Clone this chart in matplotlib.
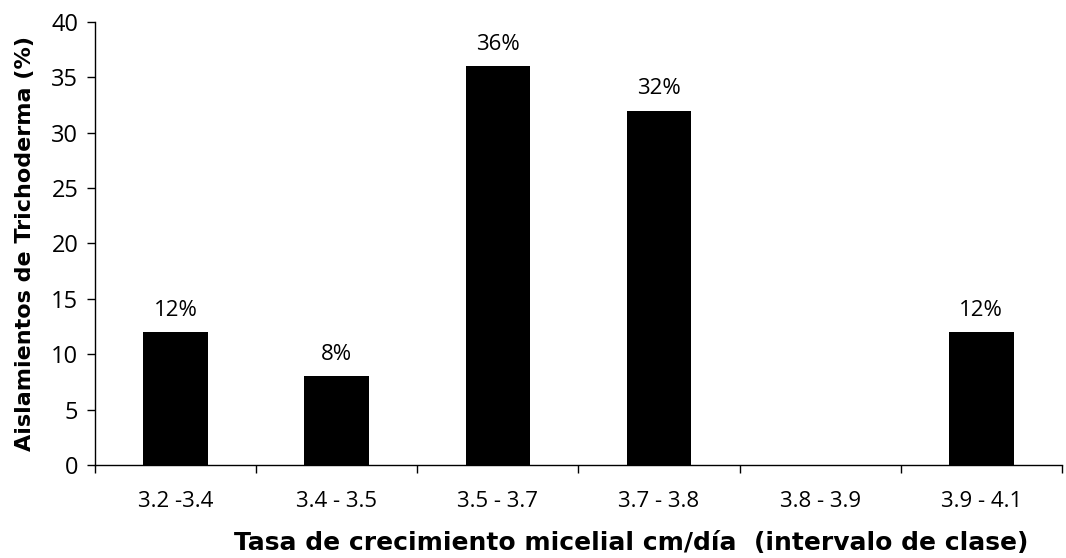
import matplotlib
matplotlib.use("Agg")
import matplotlib.pyplot as plt
import numpy as np

categories = ["3.2 -3.4", "3.4 - 3.5", "3.5 - 3.7", "3.7 - 3.8", "3.8 - 3.9", "3.9 - 4.1"]
values = [12, 8, 36, 32, 0, 12]
labels = ["12%", "8%", "36%", "32%", "", "12%"]
yticks = [0, 5, 10, 15, 20, 25, 30, 35, 40]

fig = plt.figure(figsize=(10.66, 5.58), dpi=100)
ax = fig.add_axes([0.0891, 0.1667, 0.9071, 0.7939])

x = np.arange(len(categories))
bars = ax.bar(x, values, width=0.4, color="black")
for xi, v, lab in zip(x, values, labels):
    if lab:
        ax.annotate(lab, (xi, v), xytext=(0, 8), textcoords="offset points",
                    ha="center", va="bottom", fontsize=16, family="Open Sans")

ax.set_xlim(-0.5, len(categories) - 0.5)
ax.set_ylim(0, 40)
ax.set_yticks(yticks)
ax.set_yticklabels([str(t) for t in yticks], family="Open Sans", fontsize=17)
ax.set_xticks(np.arange(-0.5, len(categories), 1.0))
ax.set_xticklabels([])
ax.set_xticks(x, minor=True)
ax.set_xticklabels(categories, minor=True, family="Open Sans", fontsize=16)
ax.tick_params(axis="x", which="minor", length=0, pad=19)
ax.tick_params(axis="x", which="major", length=6, width=1, direction="out")
ax.tick_params(axis="y", length=6, width=1, direction="out", pad=6)

for s in ["top", "right"]:
    ax.spines[s].set_visible(False)
for s in ["left", "bottom"]:
    ax.spines[s].set_linewidth(1)

ax.set_ylabel("Aislamientos de Trichoderma (%)", fontsize=16, fontweight="bold",
              family="DejaVu Sans", labelpad=12)
ax.set_xlabel("Tasa de crecimiento micelial cm/día  (intervalo de clase)", fontsize=18,
              fontweight="bold", family="DejaVu Sans")
ax.xaxis.set_label_coords(0.555, -0.15)

fig.savefig("out.png", dpi=100)
